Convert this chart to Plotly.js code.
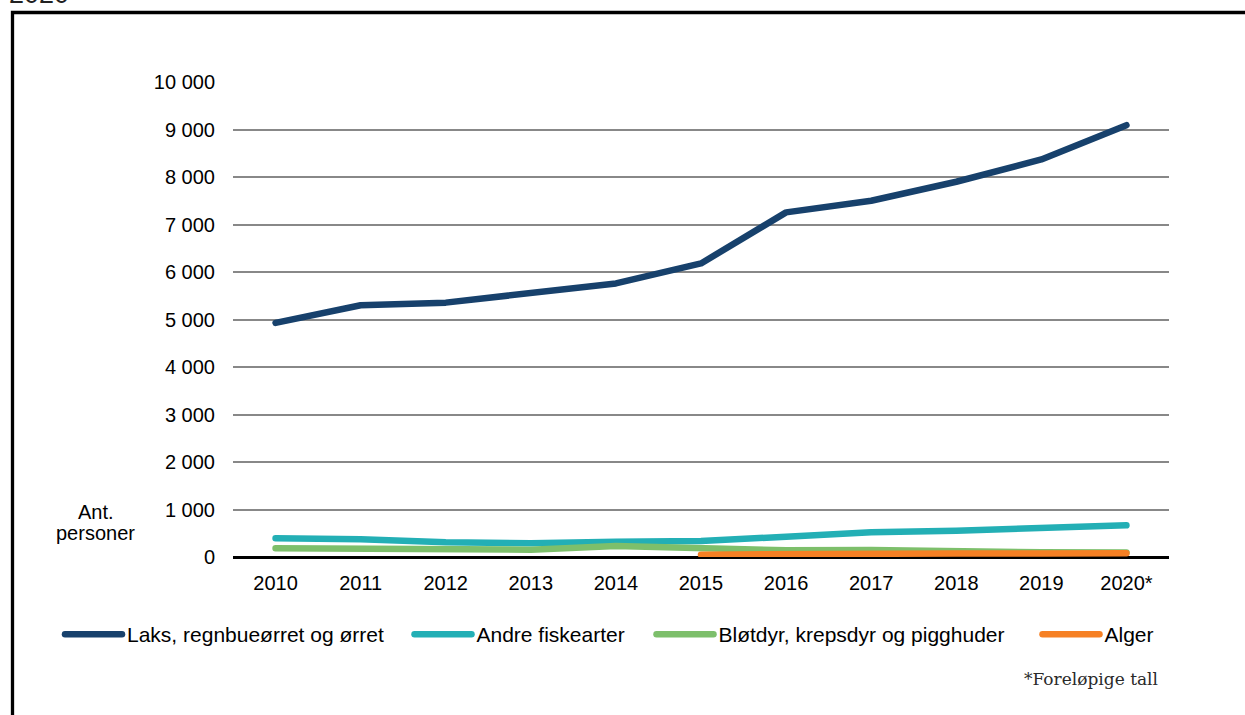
<!DOCTYPE html>
<html>
<head>
<meta charset="utf-8">
<script src="https://cdn.plot.ly/plotly-3.0.1.min.js"></script>
<style>
  html, body { margin: 0; padding: 0; background: #fff; }
  #chart { width: 1245px; height: 715px; }
  path.js-line { stroke-linecap: round; stroke-linejoin: round; }
  .legendlines path { stroke-linecap: round; }
</style>
</head>
<body>
<div id="chart"></div>
<script>
// ---- data ----
const years = ['2010', '2011', '2012', '2013', '2014', '2015', '2016', '2017', '2018', '2019', '2020*'];
const laks = [4930, 5300, 5355, 5550, 5760, 6180, 7255, 7500, 7900, 8370, 9090];
const andre = [393, 372, 309, 288, 319, 337, 428, 520, 554, 596, 667];
const blotdyr = [183, 183, 162, 155, 232, 183, 140, 150, 110, 100, 95];
const alger = [null, null, null, null, null, 50, 65, 70, 75, 75, 80];
const seriesNames = ['Laks, regnbueørret og ørret', 'Andre fiskearter', 'Bløtdyr, krepsdyr og pigghuder', 'Alger'];
const yTickVals = [0, 1000, 2000, 3000, 4000, 5000, 6000, 7000, 8000, 9000, 10000];
const yTickText = ['0', '1 000', '2 000', '3 000', '4 000', '5 000', '6 000', '7 000', '8 000', '9 000', '10 000'];
const yLabel = ['Ant.', 'personer'];
const footnote = '*Foreløpige tall';
const topText = '2020';

const colors = ['#17416c', '#23afb5', '#7dbf6b', '#f68024'];
const seriesValues = [laks, andre, blotdyr, alger];
const legendIds = ['legend', 'legend2', 'legend3', 'legend4'];
// left edge (px) of each legend entry
const legendLeftPx = [60, 409.5, 651.5, 1037.5];

const traces = seriesValues.map((vals, i) => ({
  type: 'scatter',
  mode: 'lines',
  x: years,
  y: vals,
  name: seriesNames[i],
  legend: legendIds[i],
  line: { color: colors[i], width: 6.5 },
  connectgaps: false,
  hoverinfo: 'x+y+name'
}));

const font = 'Liberation Sans, Arial, sans-serif';
const mL = 233, mR = 76, mT = 82, mB = 158, W = 1245, H = 715;
const pw = W - mL - mR, ph = H - mT - mB;
const px2x = p => (p - mL) / pw;
const px2y = p => (H - mB - p) / ph;

const layout = {
  width: W,
  height: H,
  margin: { l: mL, r: mR, t: mT, b: mB, pad: 0 },
  paper_bgcolor: '#ffffff',
  plot_bgcolor: '#ffffff',
  font: { family: font, size: 20, color: '#000000' },
  showlegend: true,
  xaxis: {
    type: 'category',
    range: [-0.5, 10.5],
    showgrid: false,
    showline: false,
    zeroline: false,
    ticks: '',
    tickfont: { family: font, size: 20, color: '#000' },
    ticklabelstandoff: 12,
    fixedrange: true
  },
  yaxis: {
    range: [0, 10000],
    tickvals: yTickVals,
    ticktext: yTickText,
    showgrid: true,
    gridcolor: '#888888',
    gridwidth: 2,
    zeroline: true,
    zerolinecolor: '#000000',
    zerolinewidth: 3,
    showline: false,
    ticks: '',
    tickfont: { family: font, size: 20, color: '#000' },
    ticklabelstandoff: 17,
    fixedrange: true
  },
  shapes: [
    {
      type: 'rect', xref: 'paper', yref: 'paper',
      x0: px2x(12.5), x1: 1.4, y0: -0.6, y1: px2y(12.5),
      line: { color: '#000000', width: 3.3 },
      fillcolor: 'rgba(0,0,0,0)', layer: 'below'
    }
  ],
  annotations: [
    { text: yLabel[0], xref: 'paper', yref: 'paper', x: px2x(95.5), y: px2y(512),
      xanchor: 'center', yanchor: 'middle', showarrow: false,
      font: { family: font, size: 20, color: '#000' } },
    { text: yLabel[1], xref: 'paper', yref: 'paper', x: px2x(95.5), y: px2y(533),
      xanchor: 'center', yanchor: 'middle', showarrow: false,
      font: { family: font, size: 20, color: '#000' } },
    { text: footnote, xref: 'paper', yref: 'paper', x: px2x(1160), y: px2y(679),
      xanchor: 'right', yanchor: 'middle', showarrow: false,
      font: { family: 'DejaVu Serif, serif', size: 17, color: '#2a2a2a' } },
    { text: topText, xref: 'paper', yref: 'paper', x: px2x(7), y: px2y(10.5),
      xanchor: 'left', yanchor: 'bottom', showarrow: false,
      font: { family: font, size: 27, color: '#222' } }
  ]
};

legendIds.forEach((id, i) => {
  layout[id] = {
    orientation: 'h',
    x: px2x(legendLeftPx[i]), xanchor: 'left',
    y: -0.12, yanchor: 'top',
    font: { family: font, size: 21, color: '#000' },
    itemwidth: 57,
    bgcolor: 'rgba(0,0,0,0)'
  };
});

Plotly.newPlot('chart', traces, layout, { displayModeBar: false, staticPlot: true });
</script>
</body>
</html>
